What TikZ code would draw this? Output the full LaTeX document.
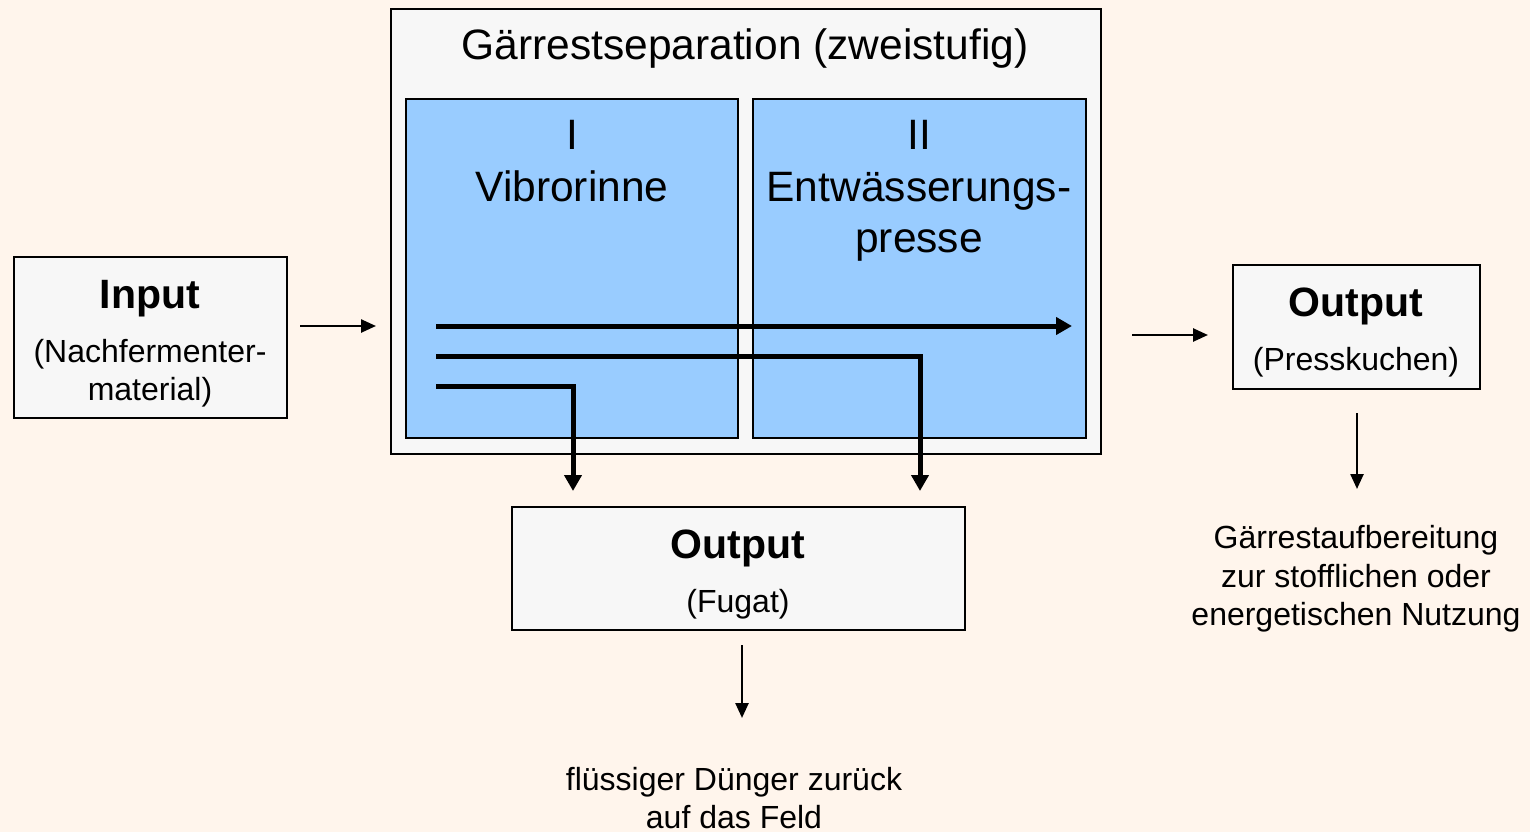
\documentclass[tikz,border=0pt]{standalone}
\usepackage{fontspec}
\setmainfont{Liberation Sans}
\usetikzlibrary{arrows.meta}
\definecolor{bgcol}{HTML}{FFF5EC}
\definecolor{boxfill}{HTML}{F7F7F7}
\definecolor{stageblue}{HTML}{99CCFF}
\begin{document}
\begin{tikzpicture}[x=1pt,y=-1pt,
  box/.style={draw=black, line width=2pt, fill=boxfill, inner sep=0pt, outer sep=0pt, anchor=north west},
  stagebox/.style={box, fill=stageblue},
  bigtxt/.style={font=\fontsize{42.5}{50}\selectfont, anchor=base, inner sep=0pt},
  bigbold/.style={font=\fontsize{41}{50}\selectfont\bfseries, anchor=base, inner sep=0pt},
  smalltxt/.style={font=\fontsize{32}{38}\selectfont, anchor=base, inner sep=0pt},
  thinarrow/.style={line width=2.5pt, -{Triangle[length=15pt,width=13pt]}},
  thickarrow/.style={line width=5pt, -{Triangle[length=16pt,width=17pt]}}]
\useasboundingbox (0,0) rectangle (1530,832);
\fill[bgcol] (0,0) rectangle (1530,832);

% Input
\node[box, minimum width=273pt, minimum height=161pt] (inbox) at (14,257) {};
\node[bigbold] (intitle) at (150,308) {Input};
\node[smalltxt] (intext1) at (150,362) {(Nachfermenter-};
\node[smalltxt] (intext2) at (150,400) {material)};

% Separation
\node[box, minimum width=710pt, minimum height=445pt] (sepbox) at (391,9) {};
\node[bigtxt] (septitle) at (745,60) {Gärrestseparation (zweistufig)};
\node[stagebox, minimum width=332pt, minimum height=339pt] (stage1) at (406,99) {};
\node[stagebox, minimum width=333pt, minimum height=339pt] (stage2) at (753,99) {};
\node[bigtxt] (s1a) at (572,149) {I};
\node[bigtxt] (s1b) at (572,201) {Vibrorinne};
\node[bigtxt] (s2a) at (919,149) {II};
\node[bigtxt] (s2b) at (919,201) {Entwässerungs-};
\node[bigtxt] (s2c) at (919,252) {presse};

% Output Fugat
\node[box, minimum width=453pt, minimum height=123pt] (fugbox) at (512,507) {};
\node[bigbold] (fugtitle) at (738,558) {Output};
\node[smalltxt] (fugtext) at (738,612) {(Fugat)};
\node[smalltxt] (fugnote1) at (734,790) {flüssiger Dünger zurück};
\node[smalltxt] (fugnote2) at (734,828) {auf das Feld};

% Output Presskuchen
\node[box, minimum width=247pt, minimum height=124pt] (pressbox) at (1233,265) {};
\node[bigbold] (presstitle) at (1356,316) {Output};
\node[smalltxt] (presstext) at (1356,370) {(Presskuchen)};
\node[smalltxt] (pressnote1) at (1356,548) {Gärrestaufbereitung};
\node[smalltxt] (pressnote2) at (1356,587) {zur stofflichen oder};
\node[smalltxt] (pressnote3) at (1356,625) {energetischen Nutzung};

% coordinates
\coordinate (inA) at (300,326);
\coordinate (inB) at (376,326);
\coordinate (f1) at (436,326);
\coordinate (f1e) at (1072,326);
\coordinate (f2) at (436,356);
\coordinate (f2e) at (920,491);
\coordinate (f3) at (436,386);
\coordinate (f3e) at (573,491);
\coordinate (outA) at (1132,335);
\coordinate (outB) at (1208,335);
\coordinate (fdA) at (742,645);
\coordinate (fdB) at (742,718);
\coordinate (pdA) at (1357,413);
\coordinate (pdB) at (1357,489);

\draw[thinarrow] (inA) -- (inB);
\draw[thinarrow] (outA) -- (outB);
\draw[thinarrow] (fdA) -- (fdB);
\draw[thinarrow] (pdA) -- (pdB);
\draw[thickarrow] (f1) -- (f1e);
\draw[thickarrow] (f2) -| (f2e);
\draw[thickarrow] (f3) -| (f3e);
\end{tikzpicture}
\end{document}
